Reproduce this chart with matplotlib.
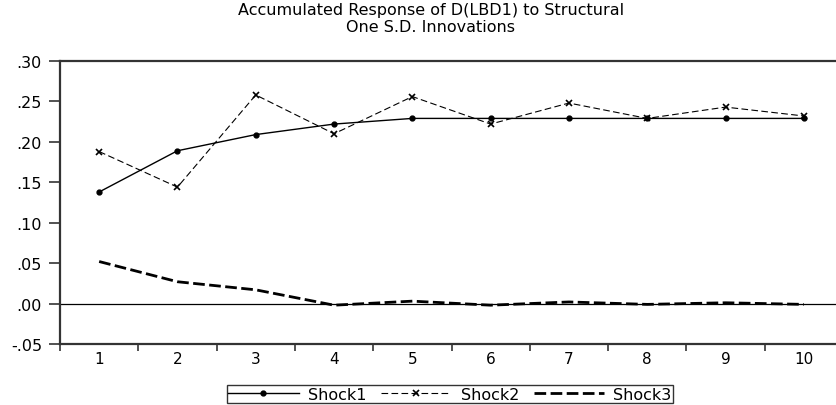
import matplotlib
matplotlib.use('Agg')
import matplotlib.pyplot as plt
import numpy as np

# accumulated responses
periods = list(range(1, 11))
shock1 = [0.138, 0.189, 0.209, 0.222, 0.229, 0.229, 0.229, 0.229, 0.229, 0.229]
shock2 = [0.188, 0.144, 0.258, 0.210, 0.256, 0.222, 0.248, 0.229, 0.243, 0.232]
shock3 = [0.052, 0.027, 0.017, -0.002, 0.003, -0.002, 0.002, -0.001, 0.001, -0.001]

y_ticks = [-0.05, 0.00, 0.05, 0.10, 0.15, 0.20, 0.25, 0.30]
y_labels = ['-.05', '.00', '.05', '.10', '.15', '.20', '.25', '.30']

plt.rcParams['font.family'] = ['DejaVu Sans']

fig = plt.figure(figsize=(8.36, 4.06), dpi=100)
ax = fig.add_axes([60 / 836, 61 / 406, 783 / 836, 283 / 406])

ax.axhline(0, color='black', linewidth=0.9, zorder=1)

ax.plot(periods, shock1, color='black', linewidth=1.0, marker='o',
        markersize=3.5, label='Shock1', zorder=3)
l2, = ax.plot(periods, shock2, color='black', linewidth=0.8, marker='x',
              markersize=5, markeredgewidth=1.2, label='Shock2', zorder=3)
l2.set_dashes((6, 3))
l3, = ax.plot(periods, shock3, color='black', linewidth=2.0, label='Shock3',
              zorder=2)
l3.set_dashes((4.2, 1.6))

ax.set_xlim(0.5, 10.5)
ax.set_ylim(-0.05, 0.30)

# category labels at the integers, tick marks at the boundaries
ax.set_xticks(periods)
ax.set_xticklabels([str(p) for p in periods])
ax.set_xticks(np.arange(0.5, 11, 1.0), minor=True)
ax.tick_params(axis='x', which='major', length=0, pad=5, labelsize=11)
ax.tick_params(axis='x', which='minor', length=5, width=1.2, color='#333333',
               direction='out')

ax.set_yticks(y_ticks)
ax.set_yticklabels(y_labels)
ax.tick_params(axis='y', which='major', length=8, width=1.2, color='#333333',
               direction='out', pad=5, labelsize=11.5)

for side in ['top', 'bottom', 'left', 'right']:
    ax.spines[side].set_linewidth(1.6)
    ax.spines[side].set_color('#333333')

fig.text(431 / 836, 1 - 3 / 406,
         'Accumulated Response of D(LBD1) to Structural\nOne S.D. Innovations',
         ha='center', va='top', fontsize=11.5, multialignment='center',
         linespacing=1.15)

leg = fig.legend(loc='lower center', bbox_to_anchor=(450 / 836, 0.0),
                 ncol=3, fontsize=11.5, frameon=True, fancybox=False,
                 handlelength=4.4, handletextpad=0.6, columnspacing=0.9,
                 borderpad=0.1, borderaxespad=0.1, numpoints=1)
leg.get_frame().set_edgecolor('black')
leg.get_frame().set_linewidth(1.0)

fig.savefig('out.png', dpi=100)
